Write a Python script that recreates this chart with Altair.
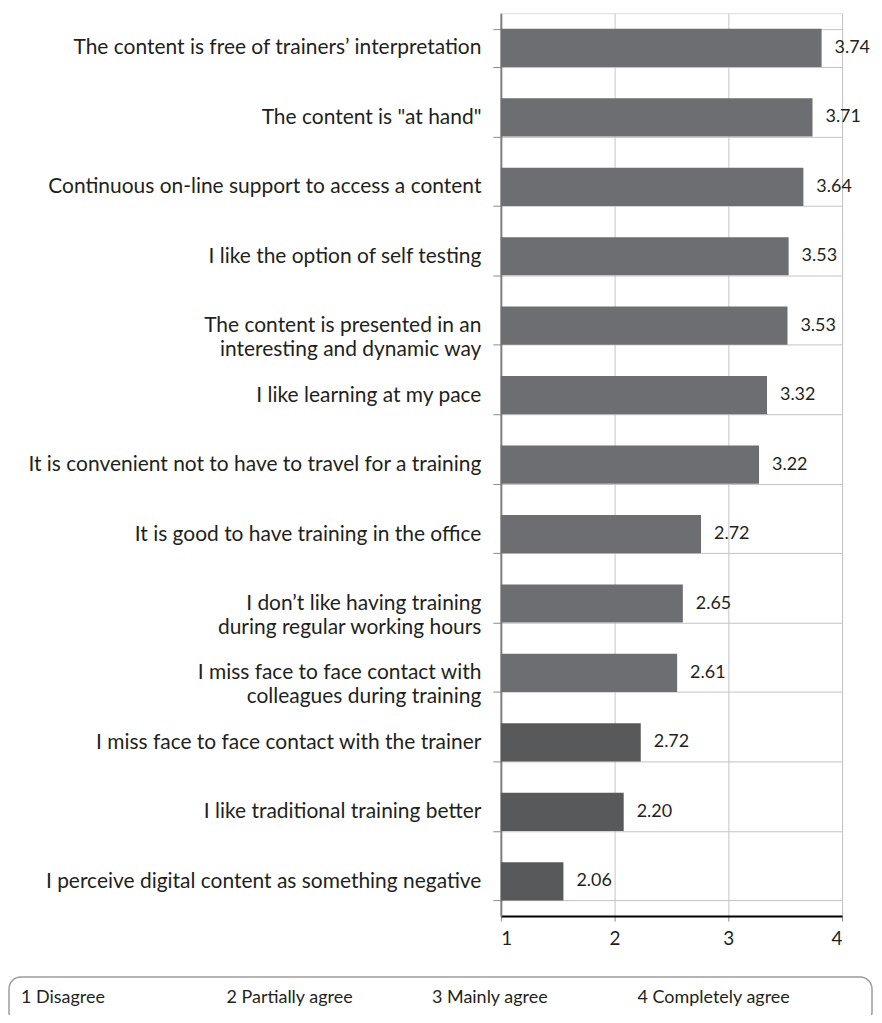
import altair as alt
import pandas as pd

categories = [
    "The content is free of trainers\u2019 interpretation",
    "The content is \"at hand\"",
    "Continuous on-line support to access a content",
    "I like  the option of self testing",
    "The content is presented in an|interesting and dynamic way",
    "I like learning at my pace",
    "It is convenient not to have to travel for a training",
    "It is good to have training in the office",
    "I don\u2019t like having training|during regular working hours",
    "I miss face to face contact with|colleagues during training",
    "I miss face to face contact with the trainer",
    "I like traditional training better",
    "I perceive digital content as something negative",
]
bar_values = [3.82, 3.74, 3.66, 3.53, 3.52, 3.34, 3.27, 2.76, 2.60, 2.55, 2.23, 2.08, 1.55]
value_labels = ["3.74", "3.71", "3.64", "3.53", "3.53", "3.32", "3.22",
                "2.72", "2.65", "2.61", "2.72", "2.20", "2.06"]
groups = ["positive", "positive", "positive", "positive", "positive",
          "positive", "positive", "positive", "positive", "positive",
          "negative", "negative", "negative"]
scale_ticks = [1, 2, 3, 4]
legend_labels = ["1 Disagree", "2 Partially agree", "3 Mainly agree", "4 Completely agree"]

df = pd.DataFrame({
    "category": categories,
    "value": bar_values,
    "label": value_labels,
    "group": groups,
})
legend_df = pd.DataFrame({"legend": legend_labels})
box_df = pd.DataFrame({"box": [0]})

FONT = "Lato"
TEXT_COLOR = "#231f20"

y_enc = alt.Y(
    "category:N",
    sort=categories,
    scale=alt.Scale(paddingInner=0.45, paddingOuter=0.225),
    axis=alt.Axis(
        title=None,
        orient="left",
        tickBand="extent",
        ticks=True,
        tickSize=8,
        tickColor="#8a8a8a",
        domainColor="#808080",
        domainWidth=2,
        grid=True,
        gridColor="#c4c4c4",
        gridWidth=1,
        labelPadding=12,
        labelFontSize=21,
        labelFont=FONT,
        labelColor=TEXT_COLOR,
        labelLimit=0,
        labelLineHeight=24,
        labelExpr="split(datum.label, '|')",
    ),
)
x_enc = alt.X(
    "value:Q",
    scale=alt.Scale(domain=[1, 4], nice=False, zero=False),
    axis=alt.Axis(
        title=None,
        values=scale_ticks,
        format="d",
        grid=True,
        gridColor="#c4c4c4",
        gridWidth=1,
        domainColor="#000000",
        domainWidth=2,
        tickColor="#8a8a8a",
        tickSize=5,
        labelPadding=8,
        labelFontSize=19,
        labelFont=FONT,
        labelColor=TEXT_COLOR,
    ),
)

bars = alt.Chart(df).mark_bar().encode(
    y=y_enc,
    x=x_enc,
    x2=alt.datum(1),
    color=alt.Color(
        "group:N",
        scale=alt.Scale(domain=["positive", "negative"], range=["#6d6e71", "#58595b"]),
        legend=None,
    ),
)

texts = alt.Chart(df).mark_text(
    align="left", baseline="middle", dx=13, fontSize=18, font=FONT, color=TEXT_COLOR
).encode(
    y=alt.Y("category:N", sort=categories),
    x=alt.X("value:Q"),
    text="label:N",
)

legend_layer = alt.Chart(legend_df).mark_point(opacity=0).encode(
    x=alt.value(0),
    y=alt.value(0),
    fill=alt.Fill(
        "legend:N",
        scale=alt.Scale(domain=legend_labels, range=["#ffffff"] * 4),
        legend=alt.Legend(
            title=None,
            orient="none",
            legendX=-499,
            legendY=978,
            direction="horizontal",
            columns=4,
            gridAlign="all",
            columnPadding=34,
            symbolSize=1,
            symbolOpacity=0,
            symbolStrokeWidth=0,
            labelOffset=0,
            labelFontSize=18,
            labelFont=FONT,
            labelColor=TEXT_COLOR,
            labelLimit=0,
            padding=0,
        ),
    ),
)

box = alt.Chart(box_df).mark_rect(
    fill="transparent", stroke="#9c9c9c", strokeWidth=1.5, cornerRadius=12
).encode(
    x=alt.value(-493),
    x2=alt.value(372),
    y=alt.value(966),
    y2=alt.value(1013),
)

chart = alt.layer(bars, texts, legend_layer, box).resolve_scale(
    color="independent", fill="independent"
).properties(
    width=342,
    height=905,
    autosize=alt.AutoSizeParams(type="none"),
    padding={"left": 494, "top": 4, "right": 32, "bottom": 98},
).configure_view(stroke=None).configure(background="white")

chart.save("out.html", embed_options={"renderer": "svg", "actions": False})
